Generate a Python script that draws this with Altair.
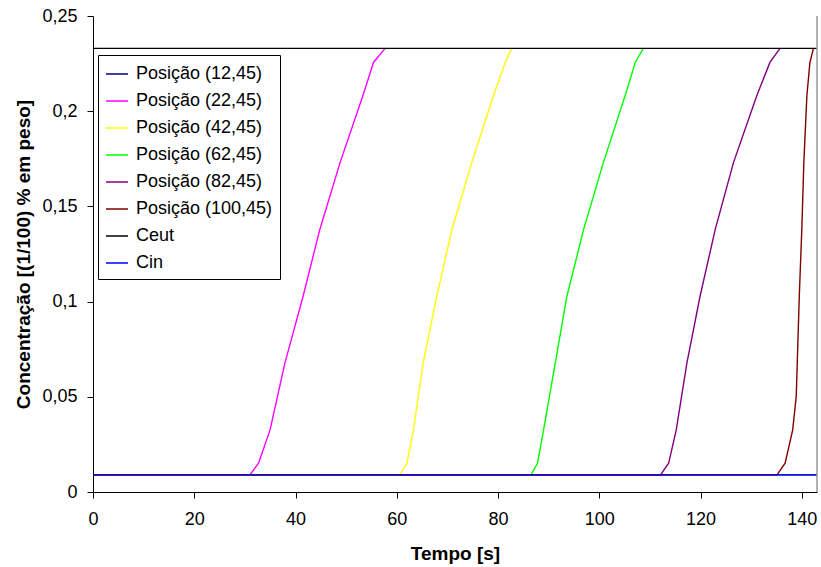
import altair as alt
import pandas as pd

# ---- data ----
series_names = ["Posição (12,45)", "Posição (22,45)", "Posição (42,45)", "Posição (62,45)",
                "Posição (82,45)", "Posição (100,45)", "Ceut", "Cin"]
series_colors = ["#000080", "#FF00FF", "#FFFF00", "#00FF00", "#800080", "#800000", "#000000", "#0000FF"]

c_levels = [0.009, 0.0151, 0.0326, 0.0677, 0.1028, 0.1379, 0.1730, 0.2081, 0.2256, 0.233]

t_12 = [0, 143]
c_12 = [0.009, 0.009]

t_22 = [0, 31.0, 32.7, 34.97, 37.9, 41.5, 44.8, 48.8, 53.3, 55.4, 57.7]
c_22 = [0.009] + c_levels

t_42 = [0, 60.6, 62.0, 63.3, 65.2, 67.9, 70.9, 74.8, 79.1, 81.4, 82.7]
c_42 = [0.009] + c_levels

t_62 = [0, 86.5, 87.8, 89.0, 91.3, 93.6, 96.9, 100.8, 105.1, 107.1, 108.7]
c_62 = [0.009] + c_levels

t_82 = [0, 112.1, 113.7, 115.2, 117.3, 119.9, 122.9, 126.5, 131.1, 133.7, 135.7]
c_82 = [0.009] + c_levels

t_100 = [0, 135.1, 136.7, 138.2, 138.9, 139.1, 139.5, 140.0, 140.4, 141.0, 141.6, 142.3]
c_100 = [0.009, 0.009, 0.0151, 0.0326, 0.0502, 0.0677, 0.1028, 0.1379, 0.1730, 0.2081, 0.2256, 0.233]

t_ceut = [0, 143]
c_ceut = [0.233, 0.233]
t_cin = [0, 143]
c_cin = [0.009, 0.009]

x_ticks = [0, 20, 40, 60, 80, 100, 120, 140]
y_ticks = [0, 0.05, 0.1, 0.15, 0.2, 0.25]
x_max = 143

# ---- build table ----
rows = []
order = 0
for name, ts, cs in zip(series_names,
                        [t_12, t_22, t_42, t_62, t_82, t_100, t_ceut, t_cin],
                        [c_12, c_22, c_42, c_62, c_82, c_100, c_ceut, c_cin]):
    for t, c in zip(ts, cs):
        rows.append({"serie": name, "t": t, "c": c, "k": order})
        order += 1
df = pd.DataFrame(rows)

FONT = "Liberation Sans"

x_enc = alt.X("t:Q", scale=alt.Scale(domain=[0, x_max], nice=False, zero=False),
              axis=alt.Axis(values=x_ticks, title="Tempo [s]", grid=False,
                            tickSize=6, labelPadding=12, labelFontSize=18,
                            titleFontSize=19, titleFontWeight="bold",
                            titleY=61, titleBaseline="middle",
                            domainColor="#000000", tickColor="#000000",
                            labelColor="#000000", titleColor="#000000",
                            labelFont=FONT, titleFont=FONT, labelFlush=False))
y_enc = alt.Y("c:Q", scale=alt.Scale(domain=[0, 0.25], nice=False),
              axis=alt.Axis(values=y_ticks, title="Concentração [(1/100) % em peso]", grid=False,
                            tickSize=6, labelPadding=10, labelFontSize=18,
                            labelExpr="replace(format(datum.value, '.2~f'), '.', ',')",
                            titleFontSize=19, titleFontWeight="bold",
                            titleX=-70, titleY=238, titleBaseline="middle", titleAlign="center",
                            titleAngle=-90,
                            domainColor="#000000", tickColor="#000000",
                            labelColor="#000000", titleColor="#000000",
                            labelFont=FONT, titleFont=FONT, labelFlush=False))

lines = alt.Chart(df).mark_line(strokeWidth=1.4).encode(
    x=x_enc,
    y=y_enc,
    color=alt.Color("serie:N",
                    scale=alt.Scale(domain=series_names, range=series_colors),
                    legend=alt.Legend(title=None, orient="none", legendX=5, legendY=39,
                                      symbolType="stroke", symbolSize=484, symbolStrokeWidth=1.5,
                                      labelFontSize=18, labelFont=FONT, labelColor="#000000",
                                      labelLimit=300, labelOffset=7, rowPadding=6,
                                      padding=7, strokeColor="#000000", fillColor="#FFFFFF")),
    order="k:Q",
)

frame_df = pd.DataFrame({"t": [x_max]})
right_edge = alt.Chart(frame_df).mark_rule(color="#999999", strokeWidth=1.5).encode(
    x="t:Q", y=alt.value(0), y2=alt.value(476))

chart = alt.layer(lines, right_edge).properties(
    width=724, height=476,
    padding={"left": 93, "top": 16, "right": 4, "bottom": 75},
    autosize=alt.AutoSizeParams(type="none"),
    background="#FFFFFF",
).configure_view(stroke=None)

chart.save("out.html", embed_options={"renderer": "svg", "actions": False})
